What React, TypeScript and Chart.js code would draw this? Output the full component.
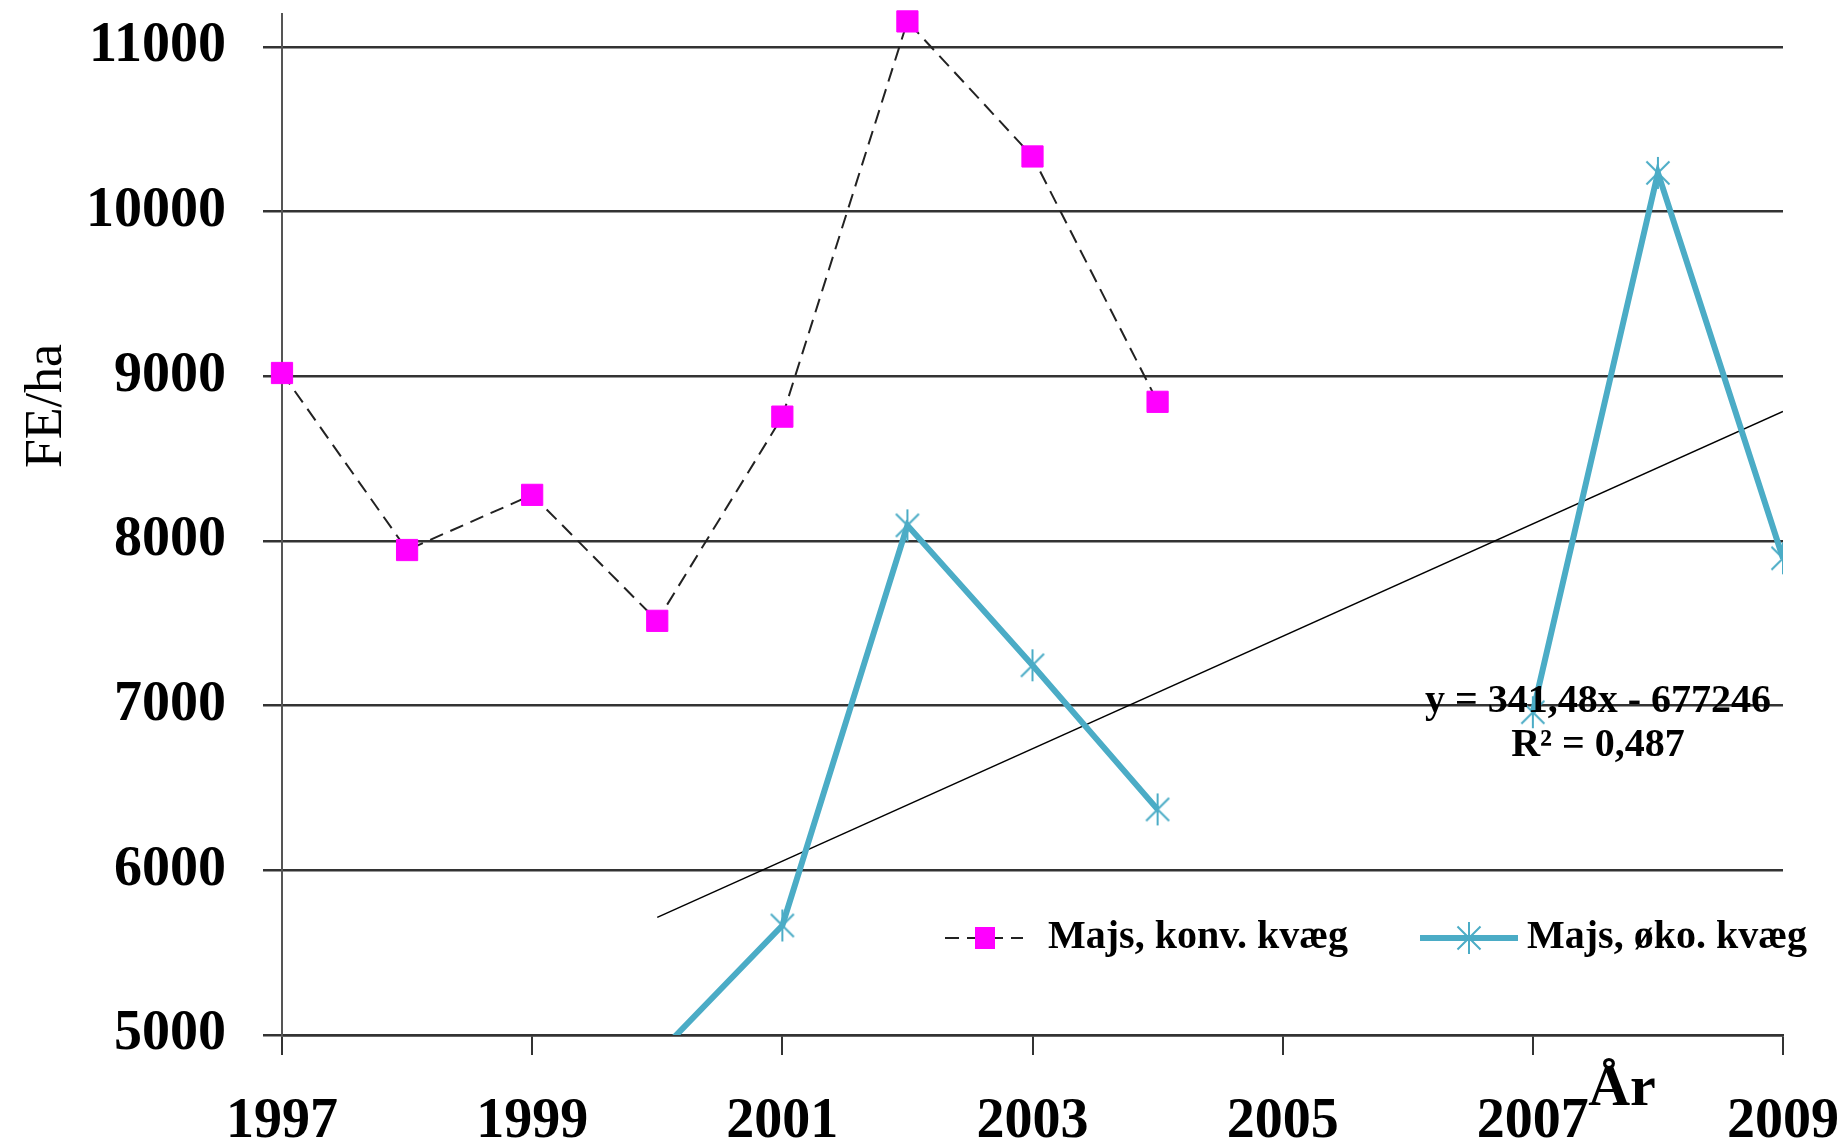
import React, { useEffect, useRef } from 'react';
import { Chart, registerables } from 'chart.js';

Chart.register(...registerables);

// ---- data ----
const YEARS = [1997, 1998, 1999, 2000, 2001, 2002, 2003, 2004, 2005, 2006, 2007, 2008, 2009];
const KONV = [9020, 7945, 8280, 7515, 8755, 11155, 10335, 8845, null, null, null, null, null];
const OKO = [null, null, null, 4880, 5665, 8095, 7245, 6370, null, null, 6960, 10235, 7895];
const TREND_SLOPE = 341.48;
const TREND_INTERCEPT = -677246;
const TREND_YEARS = [2000, 2009];
const Y_TICKS = [5000, 6000, 7000, 8000, 9000, 10000, 11000];
const X_TICKS = [1997, 1999, 2001, 2003, 2005, 2007, 2009];
const Y_MIN = 5000;
const Y_MAX = 11200;
const X_MIN = 1997;
const X_MAX = 2009;
const LABEL_KONV = 'Majs, konv. kvæg';
const LABEL_OKO = 'Majs, øko. kvæg';
const EQUATION_LINES = ['y = 341,48x - 677246', 'R² = 0,487'];
const Y_TITLE = 'FE/ha';
const X_TITLE = 'År';

const SERIF = '"Liberation Serif", "Times New Roman", serif';
const MAGENTA = '#FF00FF';
const BLUE = '#4BACC6';
const GRID = '#333333';

function makeStar(size: number, color: string, lw: number): HTMLCanvasElement {
  const c = document.createElement('canvas');
  c.width = size;
  c.height = size;
  const ctx = c.getContext('2d')!;
  ctx.strokeStyle = color;
  ctx.lineWidth = lw;
  const m = size / 2;
  const r = size / 2 - 1;
  const d = r * 0.72;
  ctx.beginPath();
  ctx.moveTo(m, m - r);
  ctx.lineTo(m, m + r);
  ctx.moveTo(m - d, m - d);
  ctx.lineTo(m + d, m + d);
  ctx.moveTo(m + d, m - d);
  ctx.lineTo(m - d, m + d);
  ctx.stroke();
  return c;
}

const overlayPlugin = {
  id: 'overlay',
  afterDraw(chart: any) {
    const ctx = chart.ctx as CanvasRenderingContext2D;
    const star = (chart as any).$star as HTMLCanvasElement;
    ctx.save();
    // y title
    ctx.fillStyle = '#000';
    ctx.font = `52px ${SERIF}`;
    ctx.textAlign = 'center';
    ctx.textBaseline = 'middle';
    ctx.save();
    ctx.translate(47, 406);
    ctx.rotate(-Math.PI / 2);
    ctx.fillText(Y_TITLE, 0, 0);
    ctx.restore();
    // x title
    ctx.font = `bold 58px ${SERIF}`;
    ctx.fillText(X_TITLE, 1622, 1090);
    // equation
    ctx.font = `bold 40px ${SERIF}`;
    ctx.fillText(EQUATION_LINES[0], 1598, 702);
    ctx.fillText(EQUATION_LINES[1], 1598, 746);
    // legend
    const ly = 938;
    ctx.strokeStyle = '#222';
    ctx.lineWidth = 2;
    ctx.setLineDash([14, 8]);
    ctx.beginPath();
    ctx.moveTo(945, ly);
    ctx.lineTo(1023, ly);
    ctx.stroke();
    ctx.setLineDash([]);
    ctx.fillStyle = MAGENTA;
    ctx.fillRect(985 - 10, ly - 11, 20, 22);
    ctx.strokeStyle = BLUE;
    ctx.lineWidth = 6;
    ctx.beginPath();
    ctx.moveTo(1420, ly);
    ctx.lineTo(1518, ly);
    ctx.stroke();
    if (star) ctx.drawImage(star, 1469 - star.width / 2, ly - star.height / 2);
    ctx.fillStyle = '#000';
    ctx.font = `bold 40px ${SERIF}`;
    ctx.textAlign = 'left';
    ctx.fillText(LABEL_KONV, 1048, ly);
    ctx.fillText(LABEL_OKO, 1527, ly);
    ctx.restore();
  },
};

export default function App() {
  const ref = useRef<HTMLCanvasElement>(null);
  useEffect(() => {
    document.body.style.margin = '0';
    const star = makeStar(34, BLUE, 2);
    const konvData = YEARS.map((x, i) => ({ x, y: KONV[i] }));
    const okoData = YEARS.map((x, i) => ({ x, y: OKO[i] }));
    const trendData = TREND_YEARS.map((x) => ({ x, y: TREND_SLOPE * x + TREND_INTERCEPT }));
    const chart = new Chart(ref.current!, {
      type: 'line',
      data: {
        datasets: [
          {
            label: LABEL_KONV,
            data: konvData as any,
            borderColor: '#222',
            borderWidth: 2,
            borderDash: [14, 8],
            pointStyle: 'rect',
            pointRadius: 15,
            pointBackgroundColor: MAGENTA,
            pointBorderColor: MAGENTA,
            pointBorderWidth: 1,
            clip: false as any,
            spanGaps: false,
          },
          {
            label: LABEL_OKO,
            data: okoData as any,
            borderColor: BLUE,
            borderWidth: 6,
            pointStyle: star as any,
            pointRadius: 17,
            spanGaps: false,
          },
          {
            label: 'trend',
            data: trendData as any,
            borderColor: '#000',
            borderWidth: 1.5,
            pointRadius: 0,
          },
        ],
      },
      options: {
        animation: false,
        responsive: false,
        devicePixelRatio: 1,
        layout: { autoPadding: false, padding: { top: 14, right: 62, left: 0, bottom: 0 } },
        plugins: { legend: { display: false }, tooltip: { enabled: false } },
        scales: {
          x: {
            type: 'linear',
            min: X_MIN,
            max: X_MAX,
            afterBuildTicks: (s: any) => {
              s.ticks = X_TICKS.map((value) => ({ value }));
            },
            afterFit: (s: any) => {
              s.height = 113;
              s.paddingLeft = 0;
              s.paddingRight = 0;
            },
            ticks: {
              color: '#000',
              padding: 34,
              maxRotation: 0,
              autoSkip: false,
              font: { family: SERIF, size: 56, weight: 'bold' },
              callback: (v: any) => String(v),
            },
            grid: { drawOnChartArea: false, drawTicks: true, tickLength: 20, color: GRID, lineWidth: 2 },
            border: { display: true, color: GRID, width: 2.5 },
          },
          y: {
            type: 'linear',
            min: Y_MIN,
            max: Y_MAX,
            afterBuildTicks: (s: any) => {
              s.ticks = Y_TICKS.map((value) => ({ value }));
            },
            afterFit: (s: any) => {
              s.width = 282;
              s.paddingTop = 0;
              s.paddingBottom = 0;
            },
            ticks: {
              color: '#000',
              padding: 37,
              autoSkip: false,
              font: { family: SERIF, size: 56, weight: 'bold' },
              callback: (v: any) => String(v),
            },
            grid: { drawTicks: true, tickLength: 19, color: GRID, lineWidth: 2.5 },
            border: { display: true, color: '#555', width: 2 },
          },
        },
      },
      plugins: [overlayPlugin],
    });
    (chart as any).$star = star;
    chart.draw();
    return () => chart.destroy();
  }, []);
  return (
    <div style={{ position: 'absolute', left: 0, top: 0, width: 1845, height: 1148 }}>
      <canvas ref={ref} width={1845} height={1148} style={{ width: 1845, height: 1148 }} />
    </div>
  );
}
